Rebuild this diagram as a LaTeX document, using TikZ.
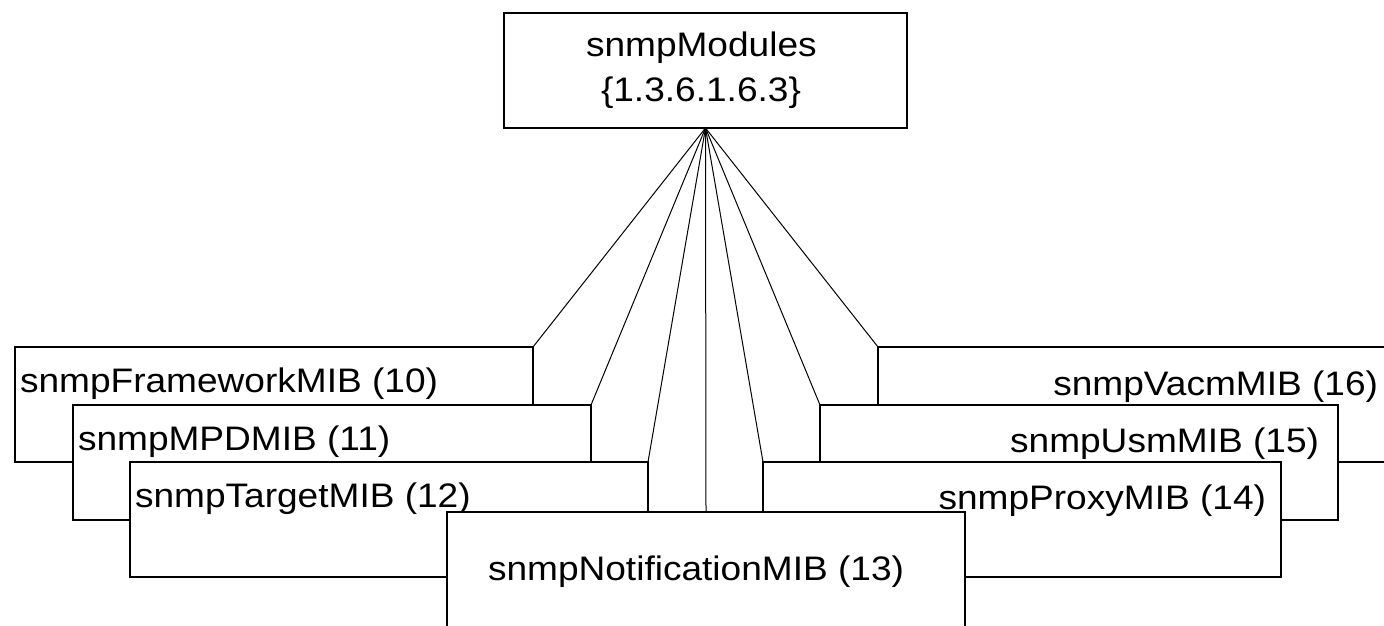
\documentclass[tikz,border=0pt]{standalone}
\usepackage{fontspec}
\setmainfont{Liberation Sans}[FakeStretch=1.09]
\pgfdeclarelayer{bg}
\pgfdeclarelayer{links}
\pgfsetlayers{bg,links,main}
\begin{document}
\begin{tikzpicture}[x=1pt,y=-1pt,
  mib/.style={draw,fill=white,line width=2pt,rectangle,inner sep=0pt,outer sep=0pt,
    minimum width=518pt,minimum height=115pt,anchor=north west},
  link/.style={line width=1pt,line cap=round},
  lbl/.style={inner sep=0pt,outer sep=0pt,font=\fontsize{34pt}{40pt}\selectfont}]
\useasboundingbox (0,0) rectangle (1384,625);
\clip (0,0) rectangle (1384,625);
\begin{pgfonlayer}{bg}
  \fill[white] (0,0) rectangle (1384,625);
\end{pgfonlayer}

% root of the subtree
\node[mib,minimum width=403pt] (root) at (504,13) {};
\node[lbl,anchor=base west] (rootname) at (586,56) {snmpModules};
\node[lbl,anchor=base west] (rootoid) at (601,101.7) {\{1.3.6.1.6.3\}};

% left-hand stack
\node[mib] (b10) at (15,347) {};
\node[lbl,anchor=base west] (t10) at (20,392) {snmpFrameworkMIB (10)};
\node[mib] (b11) at (73,405) {};
\node[lbl,anchor=base west] (t11) at (78,450) {snmpMPDMIB (11)};
\node[mib] (b12) at (130,462) {};
\node[lbl,anchor=base west] (t12) at (135,507) {snmpTargetMIB (12)};

% right-hand stack
\node[mib] (b16) at (878,347) {};
\node[lbl,anchor=base east] (t16) at (1378,395) {snmpVacmMIB (16)};
\node[mib] (b15) at (820,405) {};
\node[lbl,anchor=base east] (t15) at (1319,452) {snmpUsmMIB (15)};
\node[mib] (b14) at (763,462) {};
\node[lbl,anchor=base east] (t14) at (1266,509) {snmpProxyMIB (14)};

% front module
\node[mib] (b13) at (447,512) {};
\node[lbl,anchor=base west] (t13) at (488,580) {snmpNotificationMIB (13)};

% branches from the root
\begin{pgfonlayer}{links}
  \draw[link] (root.south) -- (b10.north east);
  \draw[link] (root.south) -- (b11.north east);
  \draw[link] (root.south) -- (b12.north east);
  \draw[link] (root.south) -- (b13.north);
  \draw[link] (root.south) -- (b14.north west);
  \draw[link] (root.south) -- (b15.north west);
  \draw[link] (root.south) -- (b16.north west);
\end{pgfonlayer}
\end{tikzpicture}
\end{document}
